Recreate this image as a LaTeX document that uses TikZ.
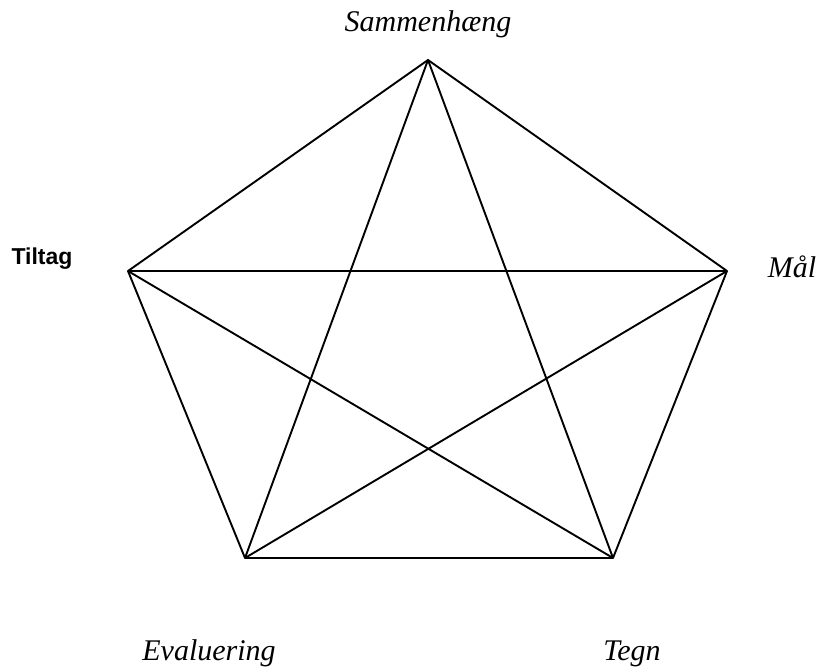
\documentclass[tikz,border=0pt]{standalone}
\usepackage{fontspec}
\setmainfont{Liberation Serif}
\setsansfont{Liberation Sans}
\begin{document}
\begin{tikzpicture}[x=1pt,y=-1pt,
  edge/.style={line width=1.9pt,line join=round},
  lbl/.style={font=\fontsize{30}{33}\selectfont\itshape,anchor=base,inner sep=0pt},
  sanslbl/.style={font=\fontsize{23}{25}\selectfont\sffamily\bfseries,anchor=base,inner sep=0pt}]
\useasboundingbox (0,0) rectangle (821,669);
\coordinate (S) at (428,60);
\coordinate (T) at (128,271);
\coordinate (M) at (727,271);
\coordinate (E) at (245,558);
\coordinate (G) at (613,558);
\draw[edge] (S) -- (M) -- (G) -- (E) -- (T) -- cycle;
\draw[edge] (S) -- (E);
\draw[edge] (S) -- (G);
\draw[edge] (T) -- (M);
\draw[edge] (T) -- (G);
\draw[edge] (M) -- (E);
\node[lbl] (ls) at (428,32) {Sammenhæng};
\node[sanslbl] (lt) at (42,264) {Tiltag};
\node[lbl] (lm) at (792,277) {Mål};
\node[lbl] (le) at (209,660) {Evaluering};
\node[lbl] (lg) at (632,660) {Tegn};
\end{tikzpicture}
\end{document}
